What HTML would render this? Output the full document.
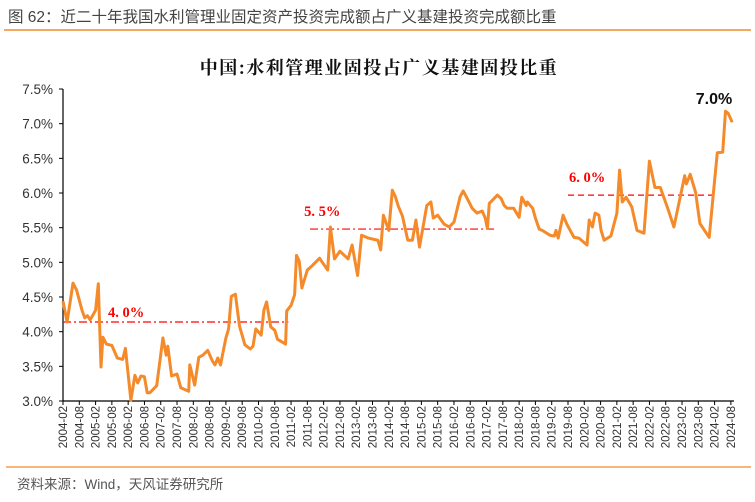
<!DOCTYPE html>
<html><head><meta charset="utf-8"><style>
body{margin:0;background:#fff;width:755px;height:497px;overflow:hidden;font-family:"Liberation Sans","Noto Sans CJK SC",sans-serif}
</style></head><body>
<svg width="755" height="497" xmlns="http://www.w3.org/2000/svg">
<text x="8" y="22" font-size="15.5" fill="#444" font-family="Liberation Sans,Noto Sans CJK SC,sans-serif">图 62：近二十年我国水利管理业固定资产投资完成额占广义基建投资完成额比重</text>
<line x1="4" y1="30" x2="751" y2="30" stroke="#f08a2c" stroke-width="1.5"/>
<text x="379" y="74" font-size="18" font-weight="bold" letter-spacing="1.5" text-anchor="middle" fill="#111" font-family="Noto Serif CJK SC,serif">中国:水利管理业固投占广义基建固投比重</text>
<g id="axes"></g>
<g id="plot"></g>
<line x1="6" y1="467" x2="751" y2="467" stroke="#f08a2c" stroke-width="1.2"/>
<text x="17" y="489" font-size="13.5" fill="#555" font-family="Liberation Sans,Noto Sans CJK SC,sans-serif">资料来源：Wind，天风证券研究所</text>
</svg>
<script>
const months=[0,1.5,3.7,5,7,8,9,10,12,13,14,14.7,16,18,20,22,23,25,26.5,27.5,28.7,30,31,32,34.5,36.8,38,38.6,40,42,43.4,46.3,46.7,48.5,50,51.5,53.3,55,56,57,58,60,61,62,63.5,65,67,69,70,71,73,74,75,76.5,78,79,82,82.4,84,85.3,86,87,88,89,90,92,94.5,95.5,97.5,98.5,100,102,105,106.5,108.5,110,112.5,114.7,116,117,118,120,121.3,122.4,123.5,125,127,128.7,130,131.3,134,135.5,136.4,138,140.4,142.3,144,146.3,147.4,148.5,150.7,152.5,154.4,155.5,156.3,157,160,161.4,162.5,163.6,166,168,169,170.6,171,173,174,175.4,176.5,179.4,181,181.6,182.4,184.2,185.7,188.2,190,193,193.8,195,196,197.4,198.2,199.3,201.8,204,205,206,207.4,209.5,211.4,214,216,218,220,223,225,229,229.6,231,233,234.6,238,240,241,243,244,245,246.5];
const values=[4.44,4.14,4.70,4.60,4.31,4.20,4.23,4.17,4.31,4.69,3.49,3.92,3.82,3.80,3.62,3.60,3.76,3.01,3.37,3.26,3.36,3.35,3.12,3.12,3.22,3.91,3.66,3.79,3.36,3.39,3.19,3.14,3.52,3.23,3.63,3.66,3.73,3.58,3.52,3.62,3.52,3.91,4.04,4.51,4.54,4.08,3.81,3.75,3.79,4.04,3.95,4.31,4.43,4.07,4.02,3.89,3.82,4.30,4.38,4.53,5.10,5.02,4.63,4.76,4.89,4.96,5.06,5.00,4.89,5.51,5.05,5.16,5.05,5.25,4.81,5.39,5.35,5.33,5.32,5.18,5.68,5.46,6.04,5.95,5.81,5.67,5.32,5.32,5.61,5.22,5.82,5.87,5.64,5.68,5.55,5.51,5.58,5.95,6.03,5.95,5.78,5.71,5.74,5.64,5.49,5.85,5.97,5.92,5.82,5.78,5.78,5.65,5.94,5.82,5.87,5.78,5.64,5.48,5.46,5.39,5.38,5.46,5.35,5.68,5.54,5.36,5.35,5.25,5.61,5.51,5.71,5.68,5.46,5.32,5.38,5.71,6.33,5.87,5.94,5.80,5.46,5.42,6.46,6.08,6.08,5.75,5.51,6.25,6.13,6.27,6.01,5.56,5.36,6.18,6.58,6.59,7.18,7.15,7.02];
const yTicks=[3.0,3.5,4.0,4.5,5.0,5.5,6.0,6.5,7.0,7.5];
const xTickLabels=[];for(let y=2004;y<=2024;y++){xTickLabels.push(y+"-02");xTickLabels.push(y+"-08");}
const refValues=[4.14,5.48,5.97];
const refStart=[0,91,186];
const refEnd=[83,159,240];
const refLabels=["4. 0%","5. 5%","6. 0%"];
const X=m=>63+m*2.715, Y=v=>401-(v-3)*69.33;
const NS="http://www.w3.org/2000/svg";
function mk(tag,attrs,parent,txt){const e=document.createElementNS(NS,tag);for(const k in attrs)e.setAttribute(k,attrs[k]);if(txt!==undefined)e.textContent=txt;parent.appendChild(e);return e;}
const ax=document.getElementById('axes'),pl=document.getElementById('plot');
let e;
e=mk('line',{x1:63,y1:89,x2:63,y2:401,stroke:'#000','stroke-width':1.2},ax);


e=mk('line',{x1:63,y1:401,x2:734,y2:401,stroke:'#000','stroke-width':1.2},ax);


yTicks.forEach(v=>{
 e=mk('line',{x1:59,y1:Y(v),x2:63,y2:Y(v),stroke:'#000'},ax);
 
 
 e=mk('text',{x:53,y:Y(v)+5,'font-size':13.5,'text-anchor':'end',fill:'#333'},ax,v.toFixed(1)+'%');
 
 
});
xTickLabels.forEach((l,i)=>{
 const x=X(i*6);
 e=mk('line',{x1:x,y1:401,x2:x,y2:405,stroke:'#000'},ax);
 
 
 e=mk('text',{x:0,y:0,'font-size':11.5,'text-anchor':'end',fill:'#333',transform:`translate(${x+4},406) rotate(-90)`},ax,l);
 
 
});
refValues.forEach((v,i)=>{
 e=mk('line',{x1:X(refStart[i]),y1:Y(v),x2:X(refEnd[i]),y2:Y(v),stroke:'#f00','stroke-width':1.2,'stroke-dasharray':i<2?'8,3,2,3':'6,4'},pl);
 
 
 e=mk('text',{x:X(refStart[i])+(i==0?45:(i==1?-6:1)),y:Y(v)-(i==0?5:13),'font-size':14.5,'font-weight':'bold',fill:'#f00','font-family':'Liberation Serif,serif'},pl,refLabels[i]);
 
 
});
e=mk('path',{d:months.map((m,i)=>(i?'L':'M')+X(m).toFixed(1)+','+Y(values[i]).toFixed(1)).join(''),fill:'none',stroke:'#f58a2a','stroke-width':3,'stroke-linejoin':'round'},pl);


e=mk('text',{x:714,y:104,'font-size':16,'font-weight':'bold','text-anchor':'middle',fill:'#111'},pl,'7.0%');


</script>
</body></html>
